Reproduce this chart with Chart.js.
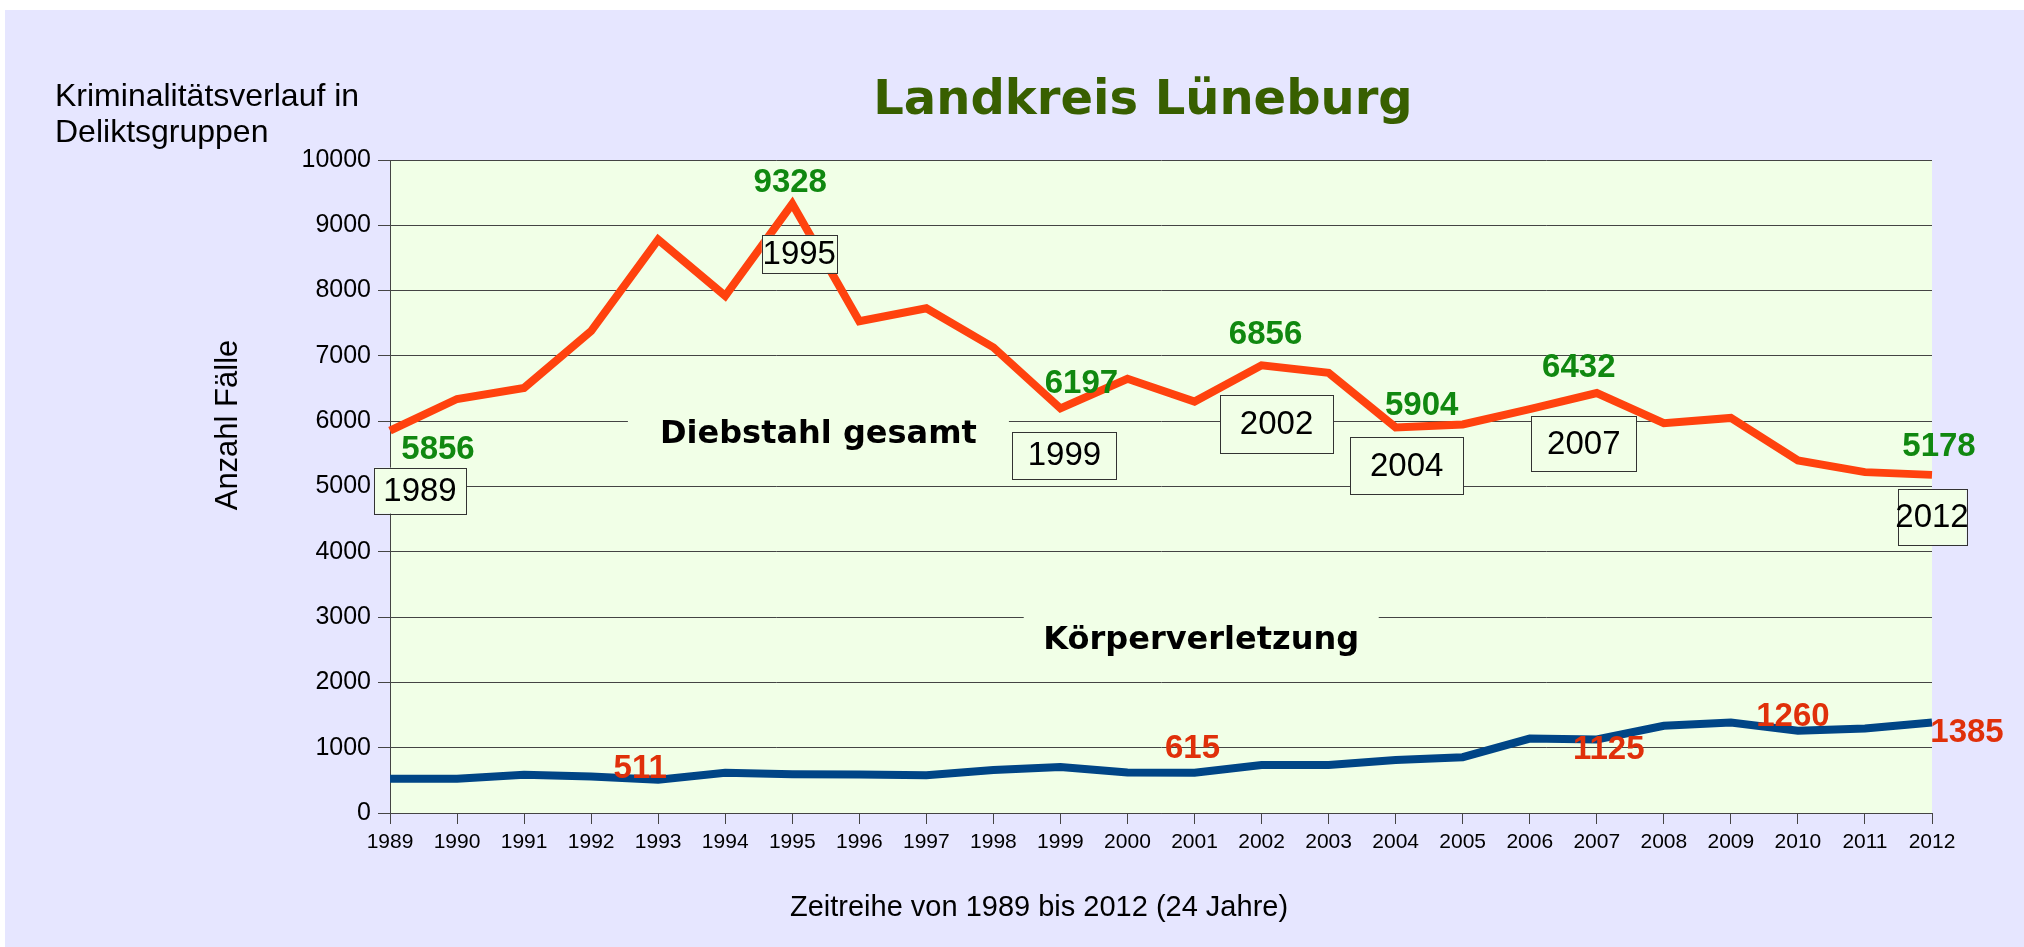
<!DOCTYPE html>
<html lang="de">
<head>
<meta charset="utf-8">
<title>Landkreis Lüneburg</title>
<script src="https://cdn.jsdelivr.net/npm/chart.js@4.4.1/dist/chart.umd.min.js"></script>
<style>
  html, body { margin: 0; padding: 0; background: #fff; overflow: hidden; }
  canvas { display: block; }
</style>
</head>
<body>
<canvas id="chart" width="2024" height="947"></canvas>
<script>
// Jahre
const jahre = ['1989', '1990', '1991', '1992', '1993', '1994', '1995', '1996', '1997', '1998', '1999', '2000',
               '2001', '2002', '2003', '2004', '2005', '2006', '2007', '2008', '2009', '2010', '2011', '2012'];

// Fallzahlen
const diebstahl = [5856, 6340, 6510, 7380, 8780, 7920, 9328, 7530, 7730, 7130, 6197, 6650,
                   6300, 6856, 6740, 5904, 5950, 6185, 6432, 5970, 6050, 5400, 5220, 5178];
const koerperverletzung = [525, 525, 585, 560, 511, 615, 595, 590, 580, 660, 705, 620,
                           615, 735, 735, 810, 855, 1140, 1125, 1335, 1385, 1260, 1295, 1385];

// Achse
const yMax = 10000;
const yStep = 1000;

// beschriftete Punkte (Index in jahre)
const diebstahlMarkiert = [0, 6, 10, 13, 15, 18, 23];
const koerperMarkiert = [4, 12, 18, 21, 23];

// Versatz der Beschriftungen in Pixeln (dx, dy) bzw. Kästchen (dx, dy, breite, hoehe)
const diebstahlWertVersatz = [[48, 19], [-2, -21], [21, -24], [4, -30], [26, -22], [-18, -25], [7, -28]];
const jahrKasten = [[30, 60, 92, 46], [7, 50, 75, 38], [4, 47, 104, 47], [15, 59, 113, 58],
                    [11, 38, 113, 57], [-13, 51, 105, 55], [0, 42, 69, 56]];
const koerperWertVersatz = [[-18, -11], [-2, -24], [12, 10], [-5, -14], [35, 10]];

const farben = {
  rahmen: '#e6e6ff',
  flaeche: '#f1ffe7',
  diebstahl: '#ff420e',
  koerper: '#004586',
  gruen: '#108810',
  rot: '#e0300a',
  titel: '#385f00',
  gitter: '#444444'
};

Chart.defaults.font.family = '"Liberation Sans", Arial, sans-serif';
Chart.defaults.color = '#000';

const deko = {
  id: 'deko',
  beforeDraw(chart) {
    const { ctx, chartArea: a, width, height } = chart;
    ctx.save();
    ctx.fillStyle = '#ffffff';
    ctx.fillRect(0, 0, width, height);
    ctx.fillStyle = farben.rahmen;
    ctx.fillRect(5, 10, width - 5, height - 10);
    ctx.fillStyle = farben.flaeche;
    ctx.fillRect(a.left, a.top, a.right - a.left, a.bottom - a.top);
    ctx.restore();
  },
  beforeDatasetsDraw(chart) {
    // Reihennamen, überdecken die Gitterlinien
    const { ctx, scales: { x, y } } = chart;
    const namen = [
      ['Diebstahl gesamt', 6.39, 5800, 381],
      ['Körperverletzung', 12.1, 2640, 355]
    ];
    ctx.save();
    ctx.font = 'bold 32px "DejaVu Sans"';
    ctx.textAlign = 'center';
    ctx.textBaseline = 'middle';
    namen.forEach(([text, xi, yv, w]) => {
      const px = x.getPixelForValue(xi);
      const py = y.getPixelForValue(yv);
      ctx.fillStyle = farben.flaeche;
      ctx.fillRect(px - w / 2, py - 28, w, 56);
      ctx.fillStyle = '#000';
      ctx.fillText(text, px, py);
    });
    ctx.restore();
  },
  afterDatasetsDraw(chart) {
    const { ctx, scales: { x, y } } = chart;
    ctx.save();
    ctx.textAlign = 'center';
    ctx.textBaseline = 'middle';

    // Jahreskästchen
    ctx.font = '33px "Liberation Sans"';
    diebstahlMarkiert.forEach((i, k) => {
      const [dx, dy, w, h] = jahrKasten[k];
      const cx = x.getPixelForValue(i) + dx;
      const cy = y.getPixelForValue(diebstahl[i]) + dy;
      ctx.fillStyle = farben.flaeche;
      ctx.fillRect(cx - w / 2, cy - h / 2, w, h);
      ctx.strokeStyle = '#333';
      ctx.lineWidth = 1;
      ctx.strokeRect(Math.round(cx - w / 2) + 0.5, Math.round(cy - h / 2) + 0.5, w, h);
      ctx.fillStyle = '#000';
      ctx.fillText(jahre[i], cx, cy + 1);
    });

    // Werte
    ctx.font = 'bold 33px "Liberation Sans"';
    ctx.fillStyle = farben.gruen;
    diebstahlMarkiert.forEach((i, k) => {
      const [dx, dy] = diebstahlWertVersatz[k];
      ctx.fillText(String(diebstahl[i]), x.getPixelForValue(i) + dx, y.getPixelForValue(diebstahl[i]) + dy);
    });
    ctx.fillStyle = farben.rot;
    koerperMarkiert.forEach((i, k) => {
      const [dx, dy] = koerperWertVersatz[k];
      ctx.fillText(String(koerperverletzung[i]), x.getPixelForValue(i) + dx, y.getPixelForValue(koerperverletzung[i]) + dy);
    });
    ctx.restore();
  },
  afterDraw(chart) {
    const { ctx } = chart;
    ctx.save();
    ctx.fillStyle = farben.titel;
    ctx.font = 'bold 48px "DejaVu Sans"';
    ctx.textAlign = 'center';
    ctx.textBaseline = 'alphabetic';
    ctx.fillText('Landkreis Lüneburg', 1143, 114);

    ctx.fillStyle = '#000';
    ctx.font = '32px "Liberation Sans"';
    ctx.textAlign = 'left';
    ctx.fillText('Kriminalitätsverlauf in', 55, 106);
    ctx.fillText('Deliktsgruppen', 55, 142);

    ctx.font = '29px "Liberation Sans"';
    ctx.textAlign = 'center';
    ctx.fillText('Zeitreihe von 1989 bis 2012 (24 Jahre)', 1039, 916);

    ctx.translate(228, 425);
    ctx.rotate(-Math.PI / 2);
    ctx.font = '31px "Liberation Sans"';
    ctx.textBaseline = 'middle';
    ctx.fillText('Anzahl Fälle', 0, 0);
    ctx.restore();
  }
};

new Chart(document.getElementById('chart'), {
  type: 'line',
  data: {
    labels: jahre,
    datasets: [{
      label: 'Diebstahl gesamt',
      data: diebstahl,
      borderColor: farben.diebstahl,
      borderWidth: 8,
      pointRadius: 0,
      tension: 0
    }, {
      label: 'Körperverletzung',
      data: koerperverletzung,
      borderColor: farben.koerper,
      borderWidth: 8,
      pointRadius: 0,
      tension: 0
    }]
  },
  options: {
    responsive: false,
    animation: false,
    devicePixelRatio: 1,
    layout: { padding: { top: 160, right: 92, bottom: 74, left: 0 } },
    plugins: {
      legend: { display: false },
      tooltip: { enabled: false }
    },
    scales: {
      x: {
        offset: false,
        grid: { drawOnChartArea: false, drawTicks: true, tickLength: 11, color: farben.gitter },
        border: { display: true, color: farben.gitter, width: 1 },
        ticks: { font: { size: 21 }, maxRotation: 0, autoSkip: false, padding: 6 },
        afterFit(scale) { scale.height = 60; }
      },
      y: {
        min: 0,
        max: yMax,
        grid: { color: farben.gitter, lineWidth: 1, tickLength: 12 },
        border: { display: true, color: farben.gitter, width: 1 },
        ticks: { stepSize: yStep, font: { size: 25 }, padding: 7, callback: (v) => String(v) },
        afterFit(scale) { scale.width = 390; }
      }
    }
  },
  plugins: [deko]
});
</script>
</body>
</html>
